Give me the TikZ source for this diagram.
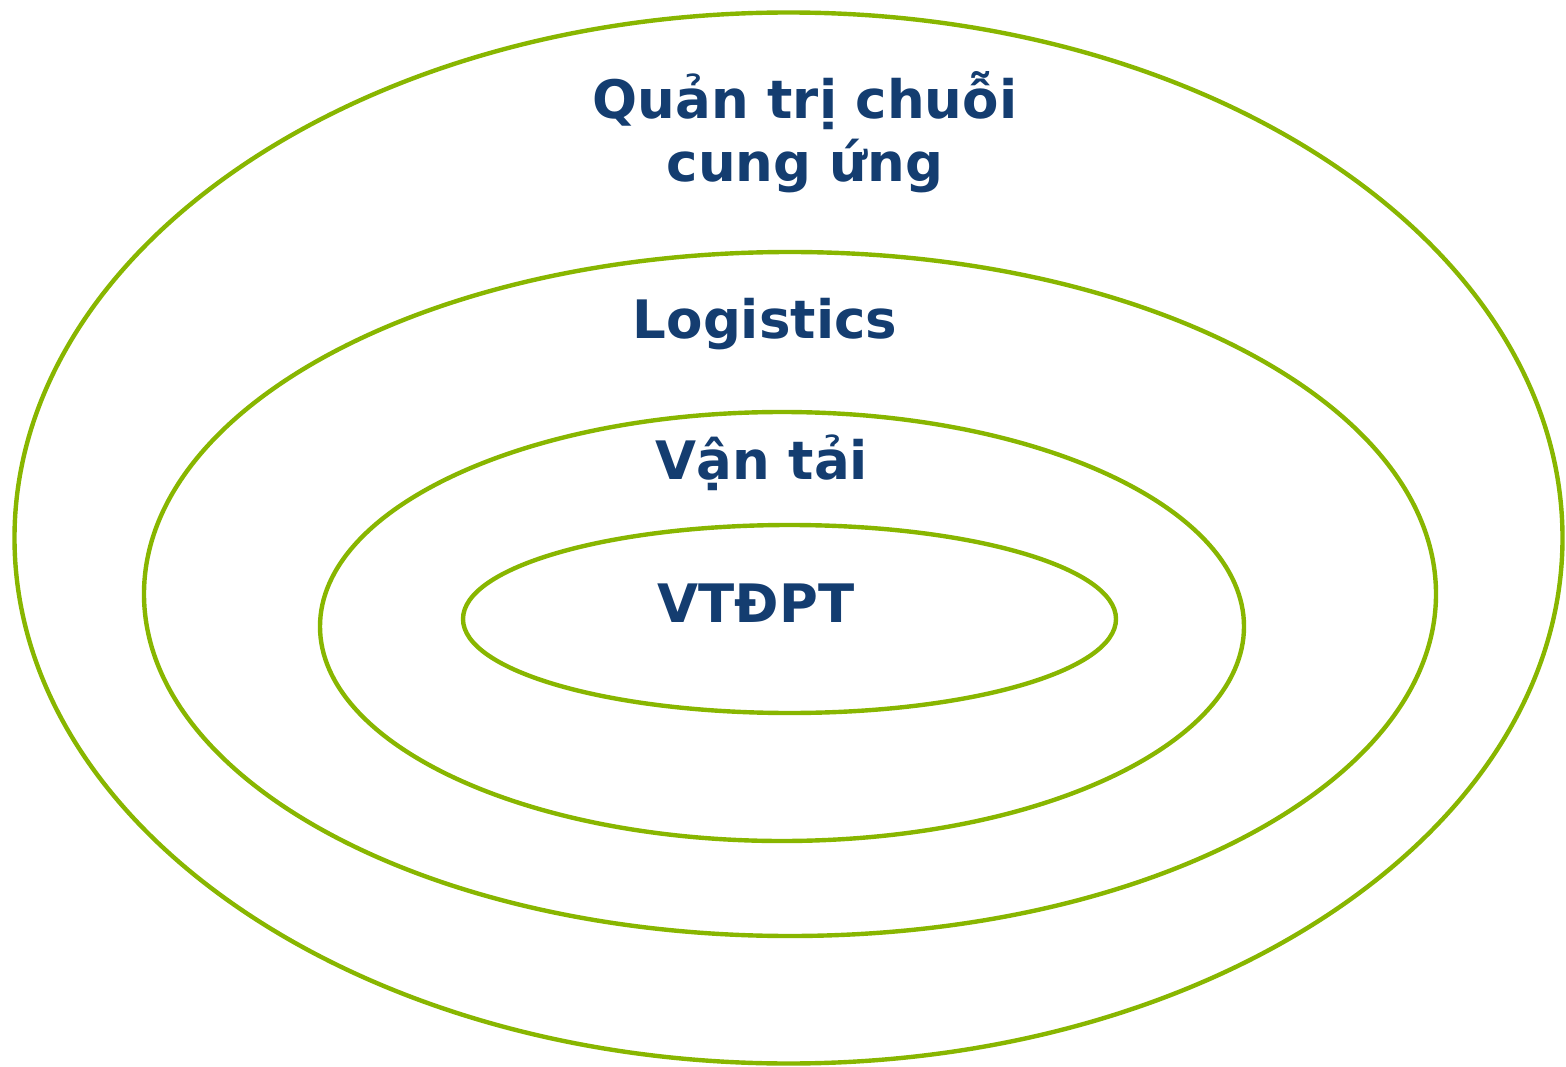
\documentclass[tikz,border=0pt]{standalone}
\usepackage{fontspec}
\setmainfont{DejaVu Sans}
\usepackage{xcolor}
\usepackage{tikz}
\usetikzlibrary{shapes.geometric, positioning}
\definecolor{mygreen}{RGB}{136,182,0}
\definecolor{mynavy}{RGB}{20,61,112}
\tikzset{
  ring/.style={ellipse, draw=mygreen, line width=4.4pt, inner sep=0pt, outer sep=0pt},
  lbl/.style={font=\fontsize{53}{63}\selectfont\bfseries, text=mynavy, align=center, anchor=base, inner sep=0pt}
}
\begin{document}
\begin{tikzpicture}[x=1pt, y=-1pt]
  \useasboundingbox (0,0) rectangle (1566,1067);

  % nested rings, outermost first
  \node[ring, minimum width=1548, minimum height=1051] (scm) at (788.5,538) {};
  \node[ring, minimum width=1292, minimum height=684] (logi) at (790,594) {};
  \node[ring, minimum width=924, minimum height=429] (vt) at (782,626.5) {};
  \node[ring, minimum width=653, minimum height=188] (vtdpt) at (789.5,619) {};

  % labels (base of a two-line node sits on its last line)
  \node[lbl] (scmtxt) at (805,182) {Quản trị chuỗi\\cung ứng};
  \node[lbl] (logitxt) at (765,338) {Logistics};
  \node[lbl] (vttxt) at (762,479) {Vận tải};
  \node[lbl] (vtdpttxt) at (756,622) {VTĐPT};
\end{tikzpicture}
\end{document}
